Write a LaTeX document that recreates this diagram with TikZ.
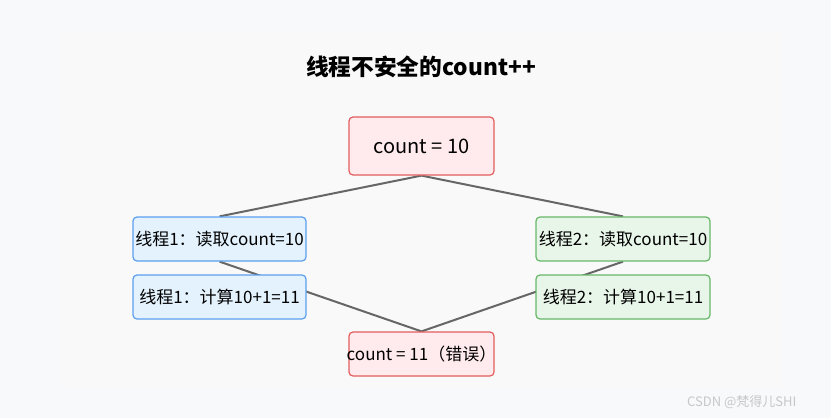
\documentclass[tikz,border=0pt]{standalone}
\usepackage{fontspec}
\setmainfont{Noto Sans CJK SC}
\newfontfamily\cjk{Noto Sans CJK SC}
\definecolor{outerbg}{HTML}{F8F9FB}
\definecolor{innerbg}{HTML}{F9F9F9}
\definecolor{redfill}{HTML}{FFEBEE}
\definecolor{reddraw}{HTML}{E35D5D}
\definecolor{bluefill}{HTML}{E3F2FD}
\definecolor{bluedraw}{HTML}{5B9FEE}
\definecolor{greenfill}{HTML}{E8F5E9}
\definecolor{greendraw}{HTML}{66B868}
\definecolor{linkcol}{HTML}{666666}
\newcommand{\fitin}[2]{\makebox[#1]{#2}}
\tikzset{
  box/.style={draw, line width=1.2pt, rounded corners=4pt, inner sep=0pt, anchor=center},
  redbox/.style={box, fill=redfill, draw=reddraw},
  bluebox/.style={box, fill=bluefill, draw=bluedraw, minimum width=173pt, minimum height=44pt, font=\cjk\fontsize{17}{19}\selectfont},
  greenbox/.style={box, fill=greenfill, draw=greendraw, minimum width=174pt, minimum height=44pt, font=\cjk\fontsize{17}{19}\selectfont},
  link/.style={draw=linkcol, line width=2pt},
}
\begin{document}
\begin{tikzpicture}[x=1pt,y=-1pt]
\fill[outerbg] (0,0) rectangle (831,418);
\useasboundingbox (0,0) rectangle (831,418);
\fill[innerbg] (62,31) rectangle (782,389);
\node (title) at (421,67) {\cjk\bfseries\fontsize{22.7}{25}\selectfont 线程不安全的count++};
% invisible placeholders so connectors run beneath the boxes
\node[redbox, minimum width=145pt, minimum height=58pt, opacity=0] (c10pre) at (421.5,146) {};
\node[bluebox, opacity=0] (l1pre) at (219.5,239) {};
\node[greenbox, opacity=0] (r1pre) at (623,239) {};
\node[redbox, minimum width=145pt, minimum height=44pt, opacity=0] (c11pre) at (421.5,354) {};
\draw[link] (c10pre.south) -- (l1pre.north);
\draw[link] (c10pre.south) -- (r1pre.north);
\draw[link] (l1pre.south) -- (c11pre.north);
\draw[link] (r1pre.south) -- (c11pre.north);
% boxes
\node[redbox, minimum width=145pt, minimum height=58pt, font=\cjk\fontsize{20}{23}\selectfont] (c10) at (421.5,146) {count = 10};
\node[bluebox] (l1) at (219.5,239) {\fitin{173pt}{线程1：读取count=10}};
\node[bluebox] (l2) at (219.5,297) {\fitin{173pt}{线程1：计算10+1=11}};
\node[greenbox] (r1) at (623,239) {\fitin{174pt}{线程2：读取count=10}};
\node[greenbox] (r2) at (623,297) {\fitin{174pt}{线程2：计算10+1=11}};
\node[redbox, minimum width=145pt, minimum height=44pt, font=\cjk\fontsize{17}{19}\selectfont] (c11) at (421.5,354) {\fitin{145pt}{count = 11（错误）}};
\node[text=black!22, font=\cjk\fontsize{13}{15}\selectfont, anchor=east] (wm) at (800,402) {CSDN @梵得儿SHI};
\end{tikzpicture}
\end{document}
